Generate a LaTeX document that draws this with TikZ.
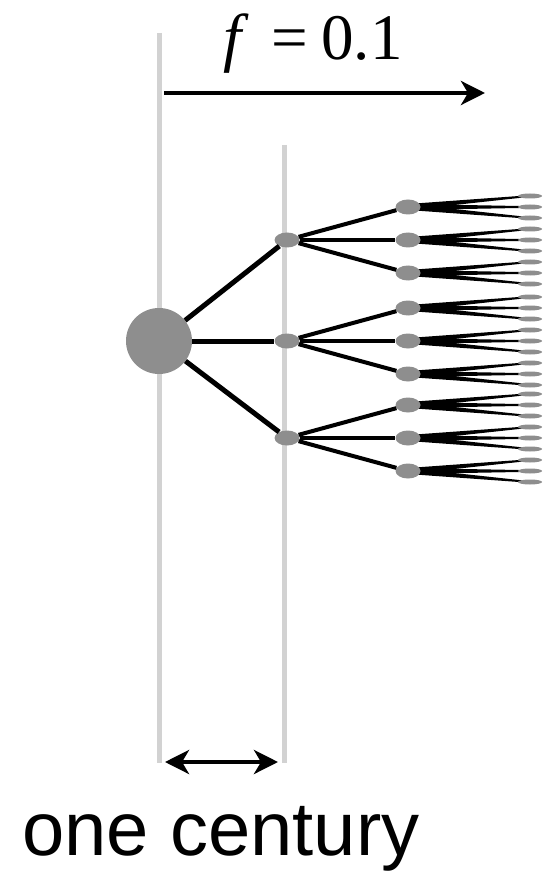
\documentclass[tikz,border=0pt]{standalone}
\usepackage{fontspec}
\usepackage{tikz}
\usetikzlibrary{arrows.meta, shapes.geometric, calc, backgrounds}
\setmainfont{Liberation Serif}
\newfontfamily\captionfont{Liberation Sans}
\definecolor{nodegray}{HTML}{8E8E8E}
\definecolor{linegray}{HTML}{D2D2D2}

\begin{document}
\begin{tikzpicture}[x=1pt, y=-1pt,
    >={Stealth[length=24pt, width=24pt, inset=7pt]},
    timeline/.style={linegray, line width=5pt},
    root/.style={circle, fill=nodegray, minimum size=66pt, inner sep=0pt},
    bud/.style={ellipse, fill=nodegray, minimum width=25pt, minimum height=15pt, inner sep=0pt},
    tip/.style={ellipse, fill=nodegray, minimum width=24pt, minimum height=5pt, inner sep=0pt},
    branch/.style={line width=5pt},
    twig/.style={line width=4pt},
    span/.style={line width=4.5pt}]
    \useasboundingbox (0,0) rectangle (542,874);
    % time lines
    \coordinate (t0top) at (159,33);
    \coordinate (t0bot) at (159,763);
    \coordinate (t1top) at (284,145);
    \coordinate (t1bot) at (284,763);
    \draw[timeline] (t0top) -- (t0bot);
    \draw[timeline] (t1top) -- (t1bot);
    % tree
    \node[root] (r) at (159,341) {};
    \foreach \i/\y in {1/240, 2/341, 3/438} {
        \node[bud] (a\i) at (287,\y) {};
        \draw[branch] (r) -- (a\i);
        \foreach \j in {1,2,3} {
            \node[bud] (b\i\j) at ($(a\i)+(121,{(\j-2)*33})$) {};
            \draw[twig] (a\i) -- (b\i\j);
            \foreach \k in {1,2,3} {
                \node[tip] (c\i\j\k) at ($(b\i\j)+(122,{(\k-2)*11})$) {};
                \begin{scope}[on background layer]
                    \fill ($(b\i\j.center)+(0,-3)$) -- ($(c\i\j\k.center)+(0,-0.8)$)
                        -- ($(c\i\j\k.center)+(0,0.8)$) -- ($(b\i\j.center)+(0,3)$) -- cycle;
                \end{scope}
            }
        }
    }
    % rate arrow
    \coordinate (fstart) at (164,93);
    \coordinate (fend) at (485,93);
    \draw[span, ->] (fstart) -- (fend);
    \node[anchor=base, font=\fontsize{65}{65}\selectfont] (flabel) at (313,60)
        {\textit{f}\hspace{0.35em}=\hspace{0.2em}0.1};
    % one generation
    \coordinate (gstart) at (165,762);
    \coordinate (gend) at (278,762);
    \draw[span, <->] (gstart) -- (gend);
    \node[anchor=base, font=\captionfont\fontsize{76}{76}\selectfont] (century) at (221,855) {one century};
\end{tikzpicture}
\end{document}
